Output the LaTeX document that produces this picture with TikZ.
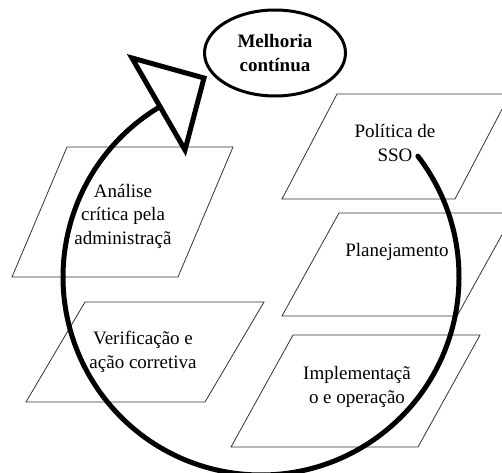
\documentclass[tikz,border=0pt]{standalone}
\usepackage{fontspec}
\setmainfont{Liberation Serif}
\usepackage{tikz}
\usetikzlibrary{shapes.geometric}

\begin{document}
\begin{tikzpicture}
  [
    x=1pt,y=1pt,
    passo/.style={draw=black!80,line width=.8pt},
    rotulo/.style={align=center,inner sep=0pt,
      font=\fontsize{19}{23.5}\selectfont},
    ciclo/.style={line width=5pt,line cap=round},
  ]
    \useasboundingbox (0,0) rectangle (502,472);
    \clip (0,0) rectangle (502,472);
    % parallelograms (x/y of lower left, width, height, slant)
    \foreach \x/\y/\w/\h/\s in {282/273/173/105/55,282/156/175/103/57,
      231/25/187/112/62,12/195/166/130/55,26/70/179/100/59}
      \draw [passo] (\x,\y) -- ++(\w,0) -- ++(\s,\h) -- ++(-\w,0) -- cycle;
    % labels
    \node [rotulo] (politica) at (395,329) {Política de\\SSO};
    \node [rotulo] (planej) at (397,220) {Planejamento};
    \node [rotulo] (implem) at (357,85) {Implementaçã\\o e operação};
    \node [rotulo] (analise) at (123,256) {Análise\\crítica pela\\administraçã};
    \node [rotulo] (verif) at (143,120) {Verificação e\\ação corretiva};
    % melhoria continua
    \node [ellipse,draw,line width=3pt,minimum width=141pt,minimum height=86pt,
      rotulo,font=\fontsize{19}{23.5}\selectfont\bfseries] (melhoria) at (275,419)
      {Melhoria\\contínua};
    % the cycle
    \coordinate (centro) at (261,195);
    \draw [ciclo] ([shift={(37.6:198)}]centro) arc [start angle=37.6,end angle=-239,radius=198];
    % arrow head
    \draw [line width=5pt,line join=miter] (132,414) -- (204,394) -- (185,322) -- cycle;
\end{tikzpicture}
\end{document}
